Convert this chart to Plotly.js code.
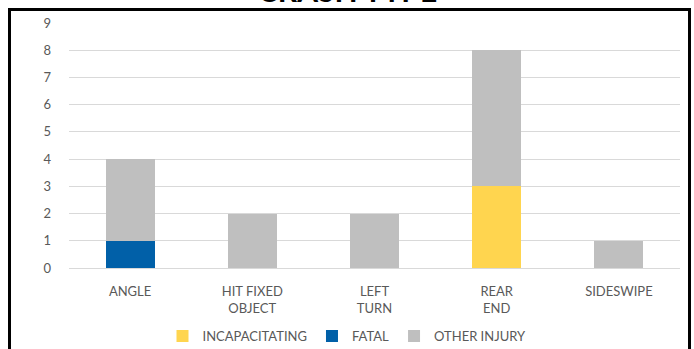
<!DOCTYPE html>
<html>
<head>
<meta charset="utf-8">
<script src="https://cdn.plot.ly/plotly-3.0.1.min.js"></script>
<style>
html,body{margin:0;padding:0;background:#fff;overflow:hidden;}
#wrap{position:relative;width:694px;height:349px;}
#chart{width:694px;height:349px;}
#frame{position:absolute;left:8px;top:8px;width:677px;height:400px;border:3px solid #000;pointer-events:none;}
</style>
</head>
<body>
<div id="wrap">
<div id="chart"></div>
<div id="frame"></div>
</div>
<script>
const chartTitle = "CRASH TYPE";
const categories = ["ANGLE", "HIT FIXED<br>OBJECT", "LEFT<br>TURN", "REAR<br>END", "SIDESWIPE"];
const incapacitating = [0, 0, 0, 3, 0];
const fatal = [1, 0, 0, 0, 0];
const otherInjury = [3, 2, 2, 5, 1];
const yTicks = [0, 1, 2, 3, 4, 5, 6, 7, 8, 9];

const font = {family: "Lato, 'Open Sans', sans-serif", size: 13, color: "#595959"};

const traces = [
  {type: "bar", name: "INCAPACITATING", x: categories, y: incapacitating, marker: {color: "#FFD54F"}},
  {type: "bar", name: "FATAL", x: categories, y: fatal, marker: {color: "#0160A8"}},
  {type: "bar", name: "OTHER INJURY", x: categories, y: otherInjury, marker: {color: "#BFBFBF"}}
];

const layout = {
  width: 694, height: 349,
  margin: {l: 69, r: 14, t: 23, b: 81},
  paper_bgcolor: "#fff", plot_bgcolor: "#fff",
  barmode: "stack",
  bargap: 0.6,
  font: font,
  annotations: [{
    text: chartTitle, xref: "paper", yref: "paper", x: 0.455, xanchor: "center",
    y: 1.055, yanchor: "bottom", showarrow: false,
    font: {family: "Lato, sans-serif", size: 30, color: "#000", weight: "bold"}
  }],
  xaxis: {
    type: "category", tickfont: font, showgrid: false, showline: true, linecolor: "#D9D9D9", linewidth: 1,
    ticks: "", ticklabelstandoff: 11, fixedrange: true
  },
  yaxis: {
    range: [0, 9], tickvals: yTicks, ticktext: yTicks.map(String), tickfont: font,
    showgrid: true, gridcolor: "#D9D9D9", gridwidth: 1, zeroline: false, showline: false,
    ticks: "", ticklabelstandoff: 17, fixedrange: true
  },
  showlegend: true,
  legend: {
    orientation: "h", xref: "container", yref: "container", x: 0.5, xanchor: "center",
    y: 0.037, yanchor: "middle", font: font, traceorder: "normal", itemclick: false
  }
};

Plotly.newPlot("chart", traces, layout, {displayModeBar: false, staticPlot: true});
</script>
</body>
</html>
